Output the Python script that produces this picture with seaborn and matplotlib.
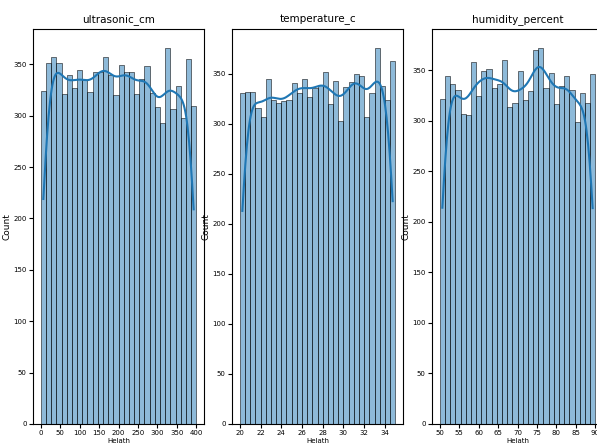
import numpy as np
import pandas as pd
import matplotlib
matplotlib.use("Agg")
import matplotlib.pyplot as plt
from matplotlib.ticker import MultipleLocator
import seaborn as sns

# bin counts (30 bins per column)
ultrasonic_counts = [324, 351, 357, 351, 321, 340, 327, 344, 335, 323,
                     342, 342, 357, 340, 320, 349, 342, 342, 321, 336,
                     348, 322, 308, 293, 366, 306, 329, 298, 355, 309]
temperature_counts = [331, 332, 332, 316, 307, 345, 324, 321, 323, 324,
                      341, 331, 345, 327, 336, 339, 352, 320, 343, 303,
                      337, 342, 350, 348, 307, 331, 376, 338, 324, 363]
humidity_counts = [321, 344, 336, 330, 307, 306, 358, 324, 349, 351,
                   332, 336, 360, 313, 317, 349, 320, 329, 370, 372,
                   332, 347, 316, 334, 344, 330, 299, 327, 317, 346]

columns = ["ultrasonic_cm", "temperature_c", "humidity_percent"]
ranges = [(0, 400), (20, 35), (50, 90)]
steps = [50, 2, 5]
counts = [ultrasonic_counts, temperature_counts, humidity_counts]

fig = plt.figure(figsize=(5.97, 4.47), dpi=100)
lefts = [33, 232, 432]

for col, (lo, hi), step, cnt, left in zip(columns, ranges, steps, counts, lefts):
    ax = fig.add_axes([left / 597, 23 / 447, 171 / 597, 395 / 447])
    edges = np.linspace(lo, hi, len(cnt) + 1)
    centers = (edges[:-1] + edges[1:]) / 2
    df = pd.DataFrame({col: centers, "n": cnt})
    sns.histplot(data=df, x=col, weights="n", bins=len(cnt), binrange=(lo, hi),
                 kde=True, kde_kws={"bw_adjust": 0.31}, ax=ax)
    ax.xaxis.set_major_locator(MultipleLocator(step))
    ax.set_title(col, fontsize=7.5, pad=5)
    ax.set_xlabel("Helath", fontsize=5, labelpad=1.5)
    ax.set_ylabel("Count", fontsize=6.5, labelpad=1.5)
    ax.tick_params(labelsize=5, length=3, pad=1.5)

fig.savefig("out.png", dpi=100)
